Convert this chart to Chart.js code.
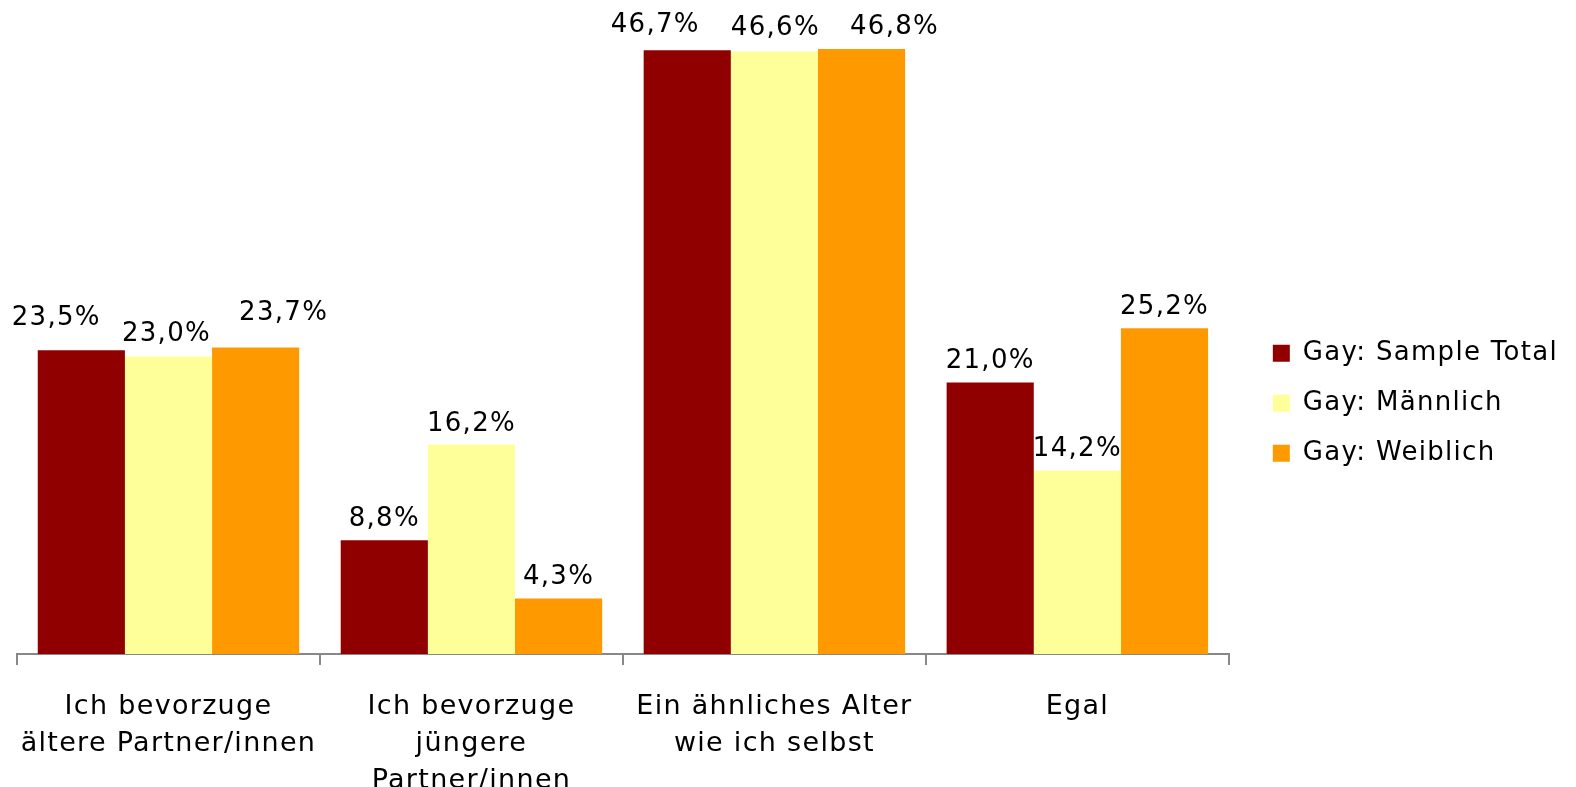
<!DOCTYPE html>
<html>
<head>
<meta charset="utf-8">
<script src="https://cdn.jsdelivr.net/npm/chart.js@4/dist/chart.umd.min.js"></script>
<style>
  html, body { margin: 0; padding: 0; background: #fff; }
  #wrap { width: 1576px; height: 787px; }
</style>
</head>
<body>
<div id="wrap"><canvas id="grafico"></canvas></div>
<script>
// Dados
const categorias = [
    ['Ich bevorzuge', 'ältere Partner/innen'],
    ['Ich bevorzuge', 'jüngere', 'Partner/innen'],
    ['Ein ähnliches Alter', 'wie ich selbst'],
    'Egal'
];
const serieNomes = ['Gay: Sample Total', 'Gay: Männlich', 'Gay: Weiblich'];
const sampleTotal = [23.5, 8.8, 46.7, 21.0];
const maennlich = [23.0, 16.2, 46.6, 14.2];
const weiblich = [23.7, 4.3, 46.8, 25.2];
const yMax = 50;

// Estilo
const cores = ['#900000', '#FFFF99', '#FF9900'];
const fonte = "'DejaVu Sans', Verdana, sans-serif";
const espacamento = '1.3px';
// deslocamento dos rótulos por série e categoria (como no Excel, para evitar sobreposição)
const rotuloDx = [[-25, 0, -32, 0], [-2, 0, 1, 0], [28, 0, 33, 0]];
const rotuloDy = [[-11, 0, -4, 0], [-2, 0, -2, 0], [-14, 0, -1, 0]];

const letterSpacingPlugin = {
    id: 'letterSpacing',
    beforeUpdate(chart) { chart.ctx.letterSpacing = espacamento; },
    beforeDraw(chart) { chart.ctx.letterSpacing = espacamento; },
    afterLayout(chart) {
        // legenda um pouco mais à direita e abaixo, como no original
        chart.legend.left += 20;
        chart.legend.right += 20;
        chart.legend.top += 6;
        chart.legend.bottom += 6;
    }
};

const rotulosPlugin = {
    id: 'rotulos',
    afterDatasetsDraw(chart) {
        const ctx = chart.ctx;
        ctx.save();
        ctx.letterSpacing = espacamento;
        ctx.font = '26px ' + fonte;
        ctx.fillStyle = '#000';
        ctx.textAlign = 'center';
        ctx.textBaseline = 'alphabetic';
        chart.data.datasets.forEach((ds, i) => {
            chart.getDatasetMeta(i).data.forEach((bar, j) => {
                const txt = ds.data[j].toFixed(1).replace('.', ',') + '%';
                ctx.fillText(txt, bar.x + rotuloDx[i][j], bar.y - 14 + rotuloDy[i][j]);
            });
        });
        ctx.restore();
    }
};

const ctx = document.getElementById('grafico').getContext('2d');
new Chart(ctx, {
    type: 'bar',
    data: {
        labels: categorias,
        datasets: [
            { label: serieNomes[0], data: sampleTotal, backgroundColor: cores[0] },
            { label: serieNomes[1], data: maennlich, backgroundColor: cores[1] },
            { label: serieNomes[2], data: weiblich, backgroundColor: cores[2] }
        ]
    },
    options: {
        responsive: true,
        maintainAspectRatio: false,
        animation: false,
        devicePixelRatio: 1,
        categoryPercentage: 0.863,
        barPercentage: 1.0,
        layout: { padding: { top: 7.5, left: 17, right: 28, bottom: 0 } },
        plugins: {
            tooltip: { enabled: false },
            legend: {
                position: 'right',
                labels: {
                    boxWidth: 17,
                    boxHeight: 17,
                    padding: 24,
                    color: '#000',
                    font: { family: fonte, size: 26 }
                }
            }
        },
        scales: {
            y: { display: false, min: 0, max: yMax },
            x: {
                afterFit(scale) {
                    scale.height = 133;
                    scale.paddingLeft = 0;
                    scale.paddingRight = 0;
                },
                border: { color: '#888', width: 2 },
                grid: {
                    offset: true,
                    drawOnChartArea: false,
                    drawTicks: true,
                    tickLength: 11,
                    color: '#888',
                    lineWidth: 2
                },
                ticks: {
                    color: '#000',
                    padding: 23,
                    maxRotation: 0,
                    autoSkip: false,
                    font: { family: fonte, size: 27, lineHeight: 1.38 }
                }
            }
        }
    },
    plugins: [letterSpacingPlugin, rotulosPlugin]
});
</script>
</body>
</html>
